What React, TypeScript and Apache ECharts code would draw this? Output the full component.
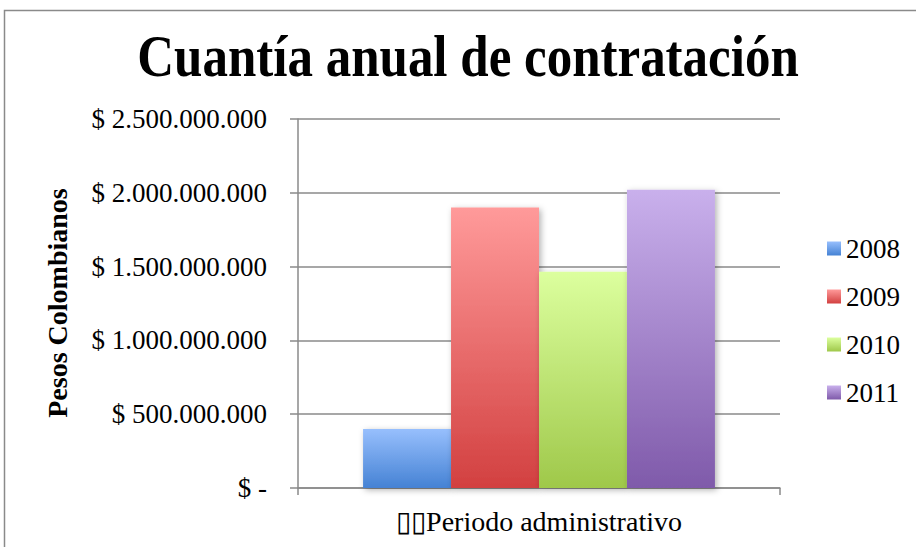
import React, { useEffect, useRef } from "react";
import * as echarts from "echarts";

const categories = [""];
const seriesNames = ["2008", "2009", "2010", "2011"];
const seriesValues = [400000000, 1900000000, 1465000000, 2020000000];
const yTicks = [0, 500000000, 1000000000, 1500000000, 2000000000, 2500000000];
const titleText = "Cuantía anual de contratación";
const yAxisTitle = "Pesos Colombianos";
const xAxisTitle = "▯▯Periodo administrativo";
const gradients = [
  ["#97bffd", "#4582d4"],
  ["#ff9a9a", "#d24040"],
  ["#dcff9e", "#9fc84a"],
  ["#c9b0ec", "#7f5aaa"],
];

const FONT = "Liberation Serif";

function fmt(v: number): string {
  if (v === 0) return "$ -";
  return "$ " + String(v).replace(/\B(?=(\d{3})+(?!\d))/g, ".");
}

export default function App() {
  const ref = useRef<HTMLDivElement>(null);
  useEffect(() => {
    if (!ref.current) return;
    const chart = echarts.init(ref.current, null, { renderer: "svg" });
    const series = seriesNames.map((name, i) => ({
      name,
      type: "bar",
      data: [seriesValues[i]],
      barGap: "0%",
      barCategoryGap: "27%",
      itemStyle: {
        color: new echarts.graphic.LinearGradient(0, 0, 0, 1, [
          { offset: 0, color: gradients[i][0] },
          { offset: 1, color: gradients[i][1] },
        ]),
        shadowBlur: 6,
        shadowColor: "rgba(0,0,0,0.3)",
        shadowOffsetX: 2,
        shadowOffsetY: 2,
      },
    }));
    chart.setOption({
      animation: false,
      backgroundColor: "#ffffff",
      grid: { left: 298, right: 136, top: 119, bottom: 59, containLabel: false },
      legend: {
        orient: "vertical",
        left: 822,
        top: 230,
        itemWidth: 14,
        itemHeight: 14,
        itemGap: 21,
        icon: "rect",
        textStyle: { fontFamily: FONT, fontSize: 27, color: "#000", lineHeight: 26 },
        data: seriesNames,
      },
      xAxis: {
        type: "category",
        data: categories,
        axisLine: { show: true, lineStyle: { color: "#8a8a8a", width: 1.5 } },
        axisTick: { show: true, length: 7, lineStyle: { color: "#8a8a8a", width: 1.5 } },
        axisLabel: { show: false },
        name: xAxisTitle,
        nameLocation: "middle",
        nameGap: 19,
        nameTextStyle: { fontFamily: FONT, fontSize: 28, color: "#000" },
      },
      yAxis: {
        type: "value",
        min: 0,
        max: yTicks[yTicks.length - 1],
        interval: yTicks[1] - yTicks[0],
        axisLine: { show: true, lineStyle: { color: "#8a8a8a", width: 1.5 } },
        axisTick: { show: true, length: 8, lineStyle: { color: "#8a8a8a", width: 1.5 } },
        splitLine: { show: true, lineStyle: { color: "#8a8a8a", width: 1.5 } },
        axisLabel: {
          margin: 31,
          fontFamily: FONT,
          fontSize: 27,
          color: "#000",
          formatter: (v: number) => fmt(v),
        },
      },
      graphic: [
        {
          type: "rect",
          silent: true,
          shape: { x: 4.5, y: 10.5, width: 1000, height: 1000 },
          style: { fill: "none", stroke: "#8a8a8a", lineWidth: 1.5 },
        },
        {
          type: "text",
          x: 468,
          y: 56,
          scaleX: 0.85,
          style: {
            text: titleText,
            font: "bold 60px 'Liberation Serif'",
            fill: "#000",
            textAlign: "center",
            textVerticalAlign: "middle",
          },
        },
        {
          type: "text",
          x: 57,
          y: 303,
          rotation: Math.PI / 2,
          style: {
            text: yAxisTitle,
            font: "bold 28px 'Liberation Serif'",
            fill: "#000",
            textAlign: "center",
            textVerticalAlign: "middle",
          },
        },
      ],
      series,
    });
    return () => chart.dispose();
  }, []);
  return (
    <div
      ref={ref}
      style={{ position: "fixed", left: 0, top: 0, width: 916, height: 547 }}
    />
  );
}
